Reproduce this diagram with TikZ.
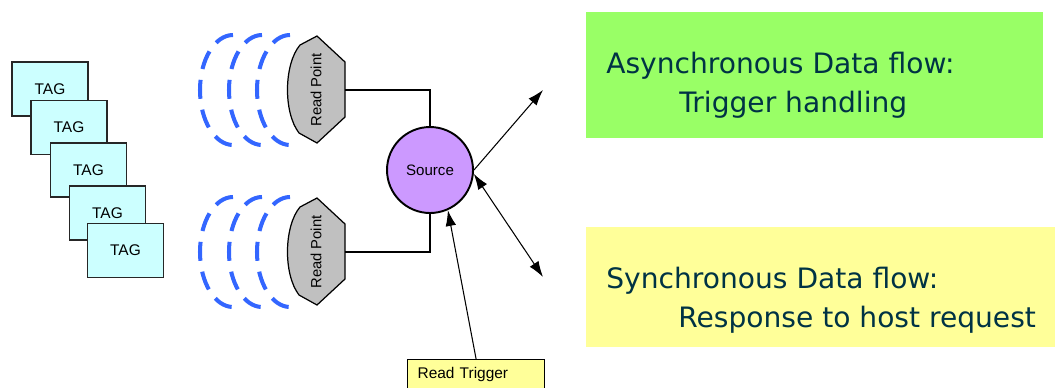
\documentclass[tikz,border=0pt]{standalone}
\usepackage{fontspec}
\setmainfont{Liberation Sans}
\newfontfamily\flowfont{DejaVu Sans}
\usetikzlibrary{arrows.meta}

\definecolor{tagcyan}{RGB}{204,255,255}
\definecolor{srcpurple}{RGB}{204,153,255}
\definecolor{rpgray}{RGB}{192,192,192}
\definecolor{waveblue}{RGB}{51,102,255}
\definecolor{asyncgreen}{RGB}{153,255,102}
\definecolor{syncyellow}{RGB}{255,255,153}
\definecolor{flowink}{RGB}{0,51,68}

\tikzstyle{tagbox} = [rectangle, minimum width=1.52cm, minimum height=1.08cm, text centered, draw=black!85, line width=0.6pt, fill=tagcyan, font=\fontsize{8.8}{10}\selectfont]
\tikzstyle{readpt} = [draw=black, line width=0.7pt, fill=rpgray]
\tikzstyle{rplabel} = [rotate=90, inner sep=0pt, font=\fontsize{8.4}{10}\selectfont]
\tikzstyle{wave} = [draw=waveblue, line width=2.3pt, dash pattern=on 0.38cm off 0.22cm]
\tikzstyle{sourcenode} = [circle, minimum size=1.72cm, inner sep=0pt, draw=black, line width=1.1pt, fill=srcpurple, font=\fontsize{8.6}{10}\selectfont]
\tikzstyle{trigbox} = [rectangle, minimum width=2.74cm, minimum height=0.6cm, text width=2.34cm, inner xsep=0.2cm, align=left, draw=black, line width=0.7pt, fill=syncyellow, font=\fontsize{8.8}{10}\selectfont]
\tikzstyle{flowbox} = [rectangle, inner sep=0pt]
\tikzstyle{flowlabel} = [inner sep=0pt, align=left, text=flowink, font=\flowfont\fontsize{16}{22.2}\selectfont]
\tikzstyle{link} = [line width=0.6pt]
\tikzstyle{arrow} = [line width=0.6pt, ->, >={Latex[length=9pt,width=6pt]}]

\begin{document}
\begin{tikzpicture}[x=0.02cm, y=-0.02cm]
\clip (0,0) rectangle (1055,387);

% stacked tags, later ones on top
\node (tag1) [tagbox] at (50,89) {TAG};
\node (tag2) [tagbox] at (69,127.5) {TAG};
\node (tag3) [tagbox] at (88.5,170) {TAG};
\node (tag4) [tagbox] at (107.5,213) {TAG};
\node (tag5) [tagbox] at (125.5,250.5) {TAG};

% radio field in front of the read points
\draw [wave] (233,35) arc[start angle=90, end angle=270, x radius=0.66cm, y radius=1.1cm];
\draw [wave] (262,35) arc[start angle=90, end angle=270, x radius=0.66cm, y radius=1.1cm];
\draw [wave] (290,35) arc[start angle=90, end angle=270, x radius=0.66cm, y radius=1.1cm];
\draw [wave] (233,197) arc[start angle=90, end angle=270, x radius=0.66cm, y radius=1.1cm];
\draw [wave] (262,197) arc[start angle=90, end angle=270, x radius=0.66cm, y radius=1.1cm];
\draw [wave] (290,197) arc[start angle=90, end angle=270, x radius=0.66cm, y radius=1.1cm];

% read points
\draw [readpt] (317,36) -- (345,62) -- (345,117) -- (317,143) -- (299,133)
  .. controls (283,112) and (284,64) .. (300,45) -- cycle;
\draw [readpt] (317,198) -- (345,224) -- (345,279) -- (317,305) -- (299,295)
  .. controls (283,274) and (284,226) .. (300,207) -- cycle;
\node (rp1) [rplabel] at (316,90) {Read Point};
\node (rp2) [rplabel] at (316,252) {Read Point};
\coordinate (rp1out) at (345,90);
\coordinate (rp2out) at (345,252);

\node (src) [sourcenode] at (430,170) {Source};
\node (trig) [trigbox, anchor=north west] at (407,359) {Read Trigger};

% data flow boxes, label anchored on the baseline of its last line
\node (async) [flowbox, fill=asyncgreen, anchor=north west, minimum width=9.14cm, minimum height=2.52cm] at (586,12) {};
\node (asynctext) [flowlabel, anchor=base west] at (606,112) {Asynchronous Data flow:\\\hspace*{1.46cm}Trigger handling};
\node (sync) [flowbox, fill=syncyellow, anchor=north west, minimum width=9.5cm, minimum height=2.4cm] at (586,227) {};
\node (synctext) [flowlabel, anchor=base west] at (606,327) {Synchronous Data flow:\\\hspace*{1.44cm}Response to host request};

\coordinate (asyncend) at (543,90);
\coordinate (syncend) at (543,277);

\draw [link] (rp1out) -| (src.north);
\draw [link] (rp2out) -| (src.south);
\draw [arrow] (src.east) -- (asyncend);
\draw [arrow, <->] (src.-5) -- (syncend);
\draw [arrow] (trig.north) -- (src.-66);

\end{tikzpicture}
\end{document}
